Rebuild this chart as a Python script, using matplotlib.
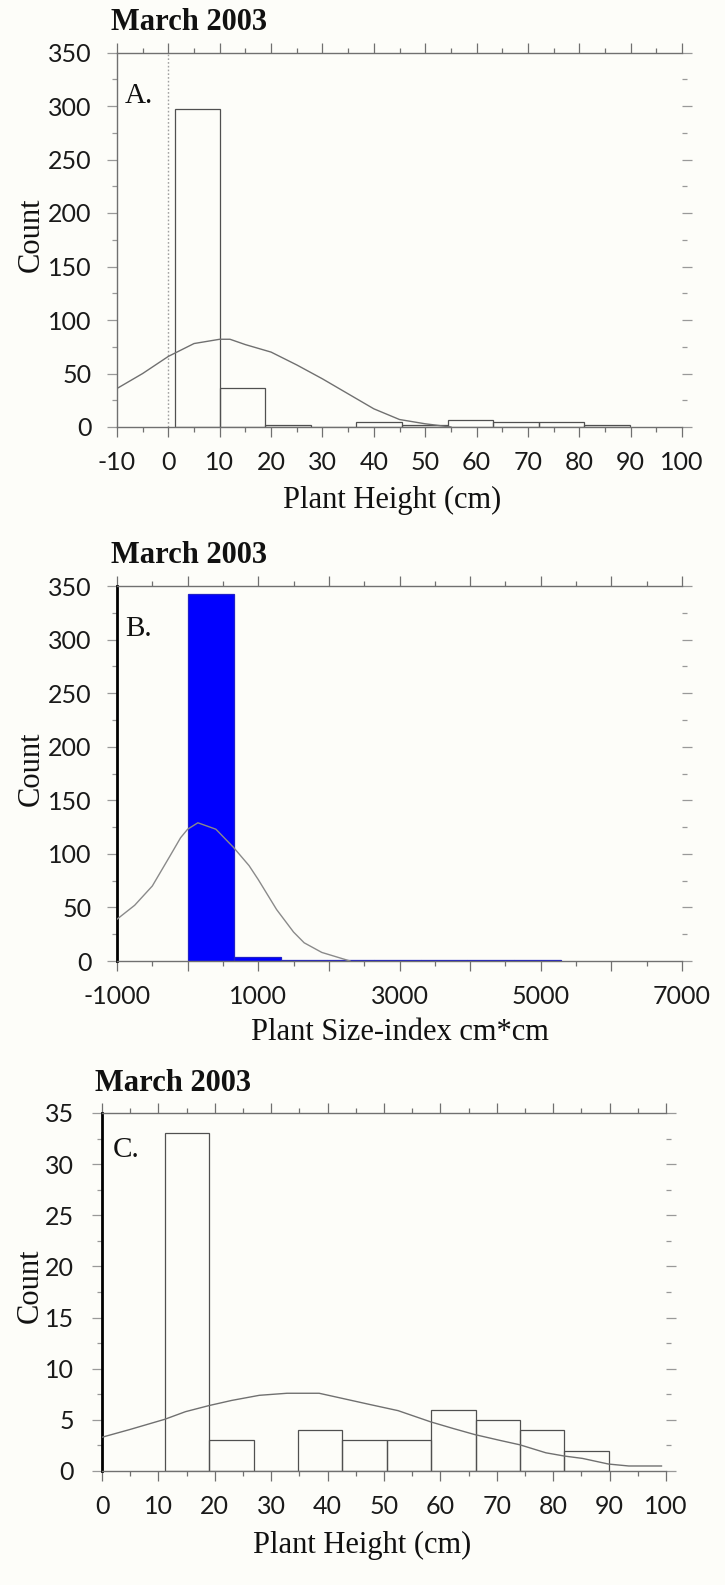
import numpy as np
import matplotlib.pyplot as plt
from matplotlib.ticker import MultipleLocator, FuncFormatter

plt.rcParams['axes.unicode_minus'] = False

# panel A: plant height histogram
height_edges = [1.2, 10.1, 18.9, 27.8, 36.6, 45.5, 54.4, 63.2, 72.1, 80.9, 89.8]
height_counts = [297, 36, 2, 0, 5, 2, 7, 5, 5, 2]
height_curve_x = [-10, -5, 0, 5, 10, 12, 15, 20, 25, 30, 35, 40, 45, 50, 55]
height_curve_y = [36, 50, 66, 78, 82, 82, 77, 70, 58, 45, 31, 17, 7, 3, 0]

# panel B: plant size-index histogram
size_edges = [0, 660, 1320, 1980, 2640, 3300, 3960, 4620, 5280]
size_counts = [343, 4, 1, 1, 1, 1, 1, 1]
size_curve_x = [-1000, -750, -500, -250, -100, 0, 145, 400, 650, 870, 1000, 1260,
                1500, 1650, 1900, 2300]
size_curve_y = [39, 52, 70, 98, 115, 123, 129, 123, 106, 89, 76, 48, 27, 17, 8, 0]

# panel C: plant height histogram (subset)
sub_edges = [11.1, 19.0, 26.9, 34.7, 42.6, 50.5, 58.4, 66.3, 74.2, 82.0, 89.9]
sub_counts = [33, 3, 0, 4, 3, 3, 6, 5, 4, 2]
sub_curve_x = [0, 4.9, 11.1, 14.8, 19, 23, 27.9, 32.8, 38.5, 42.6, 47.5, 52.5, 58.3,
               62.3, 66.1, 70.5, 74.1, 78.7, 82, 85.2, 89.8, 93.4, 99.2]
sub_curve_y = [3.3, 4.05, 5.05, 5.8, 6.4, 6.9, 7.4, 7.6, 7.6, 7.1, 6.5, 5.9, 4.8,
               4.15, 3.56, 3.0, 2.56, 1.78, 1.46, 1.23, 0.68, 0.49, 0.49]

W, H = 725, 1585
BG = '#fdfdf9'
AXC = '#707070'
TXT = '#1a1a1a'
TICKFONT = ['Lato', 'DejaVu Sans']
SERIF = ['Liberation Serif', 'DejaVu Serif']

fig = plt.figure(figsize=(W / 100, H / 100), dpi=100, facecolor=BG)


def make_axes(left, right, top, bottom):
    ax = fig.add_axes([left / W, 1 - bottom / H, (right - left) / W, (bottom - top) / H])
    ax.set_facecolor(BG)
    ax.spines['right'].set_visible(False)
    for s in ('top', 'bottom', 'left'):
        ax.spines[s].set_color(AXC)
        ax.spines[s].set_linewidth(1.0)
    ax.tick_params(which='both', direction='out', top=True, bottom=True, left=True,
                   right=True, color=AXC, width=0.9)
    ax.tick_params(which='major', length=7.2)
    ax.tick_params(which='minor', length=3.6)
    ax.tick_params(axis='y', which='both', right=True, color='#999999')
    ax.tick_params(axis='both', labelcolor=TXT, labelsize=18)
    ax.tick_params(axis='x', pad=10)
    ax.tick_params(axis='y', pad=11)
    return ax


def finish(ax, letter, lx, ly, xlabel, xl_x, xl_y, title_x, yl_x, yl_y):
    ax.text(title_x, 1.061, 'March 2003', transform=ax.transAxes, fontsize=22,
            fontweight='bold', family=SERIF, va='baseline', ha='left', color='#111111')
    ax.text(lx, ly, letter, transform=ax.transAxes, fontsize=21, family=SERIF,
            va='baseline', ha='left', color='#111111')
    ax.set_xlabel(xlabel, fontsize=22, family=SERIF, color='#111111')
    ax.xaxis.label.set_va('baseline')
    ax.xaxis.set_label_coords(xl_x, xl_y)
    ax.set_ylabel('Count', fontsize=22, family=SERIF, color='#111111')
    ax.yaxis.label.set_va('center')
    ax.yaxis.set_label_coords(yl_x, yl_y)
    for lab in ax.get_xticklabels() + ax.get_yticklabels():
        lab.set_family(TICKFONT)


# --- A ---
axA = make_axes(117, 682, 52.5, 427)
axA.bar(height_edges[:-1], height_counts, width=np.diff(height_edges), align='edge',
        facecolor='none', edgecolor='#505050', linewidth=0.9, zorder=2)
axA.plot(height_curve_x, height_curve_y, color='#707070', linewidth=1.0, zorder=3)
axA.axvline(0, color='#a0a0a0', linestyle=(0, (1.2, 1.5)), linewidth=1.0, zorder=1)
axA.set_xlim(-10, 100)
axA.set_ylim(0, 350)
axA.xaxis.set_major_locator(MultipleLocator(10))
axA.xaxis.set_minor_locator(MultipleLocator(5))
axA.yaxis.set_major_locator(MultipleLocator(50))
axA.yaxis.set_minor_locator(MultipleLocator(25))
finish(axA, 'A.', 0.014, 0.864, 'Plant Height (cm)', 0.487, -0.216, -0.011, -0.152, 0.513)

# --- B ---
axB = make_axes(117, 682, 586, 961)
axB.bar(size_edges[:-1], size_counts, width=np.diff(size_edges), align='edge',
        facecolor='#0000ff', edgecolor='#2020c8', linewidth=0.9, zorder=2)
axB.plot(size_curve_x, size_curve_y, color='#8a8a8a', linewidth=1.0, zorder=3)
axB.set_xlim(-1000, 7000)
axB.set_ylim(0, 350)
axB.xaxis.set_major_locator(MultipleLocator(1000))
axB.xaxis.set_minor_locator(MultipleLocator(500))
axB.xaxis.set_major_formatter(FuncFormatter(lambda v, p: '%d' % v if int(round(v)) % 2000 else ''))
axB.yaxis.set_major_locator(MultipleLocator(50))
axB.yaxis.set_minor_locator(MultipleLocator(25))
axB.spines['left'].set_color('black')
axB.spines['left'].set_linewidth(2.0)
finish(axB, 'B.', 0.014, 0.867, 'Plant Size-index cm*cm', 0.501, -0.211, -0.011, -0.152, 0.513)

# --- C ---
axC = make_axes(102, 666, 1113, 1471)
axC.bar(sub_edges[:-1], sub_counts, width=np.diff(sub_edges), align='edge',
        facecolor='none', edgecolor='#505050', linewidth=0.9, zorder=2)
axC.plot(sub_curve_x, sub_curve_y, color='#707070', linewidth=1.0, zorder=3)
axC.set_xlim(0, 100)
axC.set_ylim(0, 35)
axC.xaxis.set_major_locator(MultipleLocator(10))
axC.xaxis.set_minor_locator(MultipleLocator(5))
axC.yaxis.set_major_locator(MultipleLocator(5))
axC.yaxis.set_minor_locator(MultipleLocator(2.5))
axC.spines['left'].set_color('black')
axC.spines['left'].set_linewidth(2.0)
axC.tick_params(axis='y', pad=13)
finish(axC, 'C.', 0.0195, 0.877, 'Plant Height (cm)', 0.461, -0.229, -0.012, -0.127, 0.517)

fig.savefig('out.png', dpi=100, facecolor=BG)
